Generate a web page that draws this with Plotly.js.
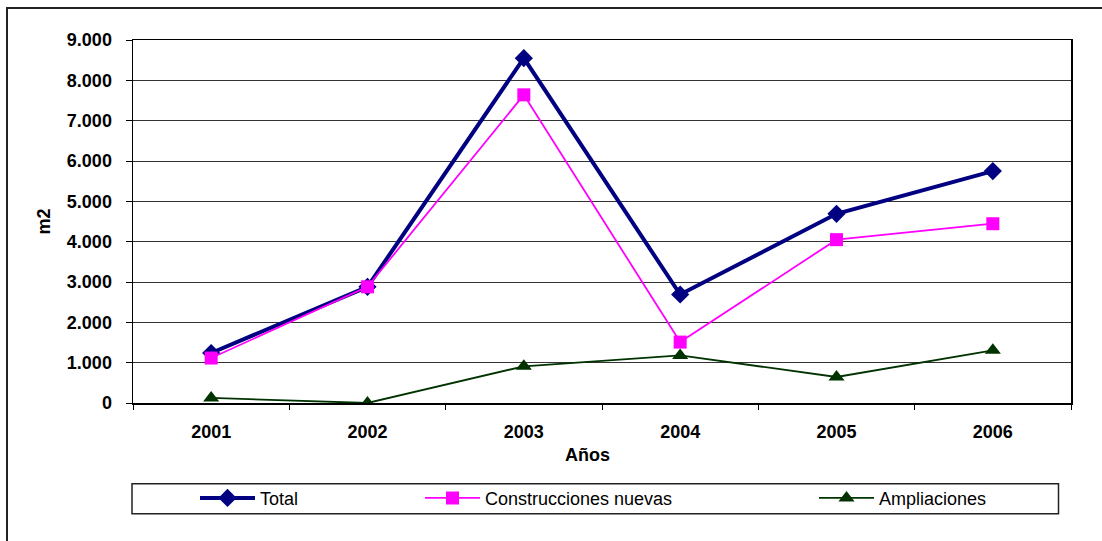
<!DOCTYPE html>
<html>
<head>
<meta charset="utf-8">
<script src="https://cdn.plot.ly/plotly-3.0.1.min.js"></script>
<style>
  html, body { margin:0; padding:0; background:#fff; overflow:hidden; }
  #frame { position:absolute; left:6px; top:7px; width:2000px; height:2000px; border:2px solid #222; box-sizing:border-box; }
  #chart { position:absolute; left:0; top:0; width:1102px; height:541px; }
</style>
</head>
<body>
<div id="frame"></div>
<div id="chart"></div>
<script>
const years = ['2001', '2002', '2003', '2004', '2005', '2006'];
const total = [1240, 2880, 8550, 2690, 4690, 5750];
const construccionesNuevas = [1115, 2880, 7640, 1510, 4050, 4445];
const ampliaciones = [125, 0, 910, 1180, 645, 1305];
const seriesNames = ['Total', 'Construcciones nuevas', 'Ampliaciones'];

const W = 1102, H = 541;
const L = 133, R = 1071, T = 39.5, B = 402.7;
const pw = R - L, ph = B - T;
const px = x => (x - L) / pw;
const py = y => (B - y) / ph;

const fontFam = 'Liberation Sans, Arial, sans-serif';

const traces = [
  { x: years, y: total, name: seriesNames[0], type: 'scatter', mode: 'lines+markers',
    line: { color: '#000080', width: 4 },
    marker: { symbol: 'diamond', size: 14, color: '#000080' }, legend: 'legend' },
  { x: years, y: construccionesNuevas, name: seriesNames[1], type: 'scatter', mode: 'lines+markers',
    line: { color: '#FF00FF', width: 1.8 },
    marker: { symbol: 'square', size: 13, color: '#FF00FF' }, legend: 'legend2' },
  { x: years, y: ampliaciones, name: seriesNames[2], type: 'scatter', mode: 'lines+markers',
    line: { color: '#003300', width: 1.8 },
    marker: { symbol: 'triangle-up', size: 14, color: '#003300' }, legend: 'legend3' }
];

const legBase = { orientation: 'h', xanchor: 'left', yanchor: 'middle', y: py(498),
  bgcolor: 'rgba(0,0,0,0)', borderwidth: 0, itemwidth: 55,
  font: { family: fontFam, size: 18, color: '#000' } };

const layout = {
  width: W, height: H,
  margin: { l: L, r: W - R, t: T, b: H - B },
  paper_bgcolor: 'rgba(0,0,0,0)', plot_bgcolor: '#fff',
  separators: ',.',
  font: { family: fontFam, color: '#000' },
  xaxis: {
    type: 'category', range: [-0.5, 5.5], tickson: 'boundaries', ticks: 'outside', ticklen: 5, tickcolor: '#000', tickwidth: 1,
    showline: true, linecolor: '#000', linewidth: 1.5, mirror: true,
    showgrid: false, zeroline: false,
    tickfont: { family: fontFam, size: 18, color: '#000', weight: 'bold' },
    ticklabelstandoff: 12
  },
  yaxis: {
    range: [0, 9000], dtick: 1000, tickformat: ',d',
    ticks: 'outside', ticklen: 6, tickcolor: '#000', tickwidth: 1,
    showline: true, linecolor: '#000', linewidth: 1.5, mirror: true,
    showgrid: true, gridcolor: '#333', gridwidth: 1, zeroline: false,
    tickfont: { family: fontFam, size: 18, color: '#000', weight: 'bold' },
    ticklabelstandoff: 10,
    title: { text: 'm2', font: { family: fontFam, size: 18, color: '#000', weight: 'bold' }, standoff: 11 }
  },
  showlegend: true,
  legend: Object.assign({}, legBase, { x: px(195) }),
  legend2: Object.assign({}, legBase, { x: px(420) }),
  legend3: Object.assign({}, legBase, { x: px(814) }),
  annotations: [
    { text: 'Años', xref: 'paper', yref: 'paper', x: px(587), y: py(455), xanchor: 'center', yanchor: 'middle',
      showarrow: false, font: { family: fontFam, size: 18, color: '#000', weight: 'bold' } }
  ],
  shapes: [
    { type: 'rect', xref: 'paper', yref: 'paper', x0: px(132), x1: px(1058.5), y0: py(483.5), y1: py(513.5),
      line: { color: '#222', width: 1.5 }, fillcolor: 'rgba(0,0,0,0)', layer: 'below' }
  ]
};

Plotly.newPlot('chart', traces, layout, { displayModeBar: false, staticPlot: true });
</script>
</body>
</html>
